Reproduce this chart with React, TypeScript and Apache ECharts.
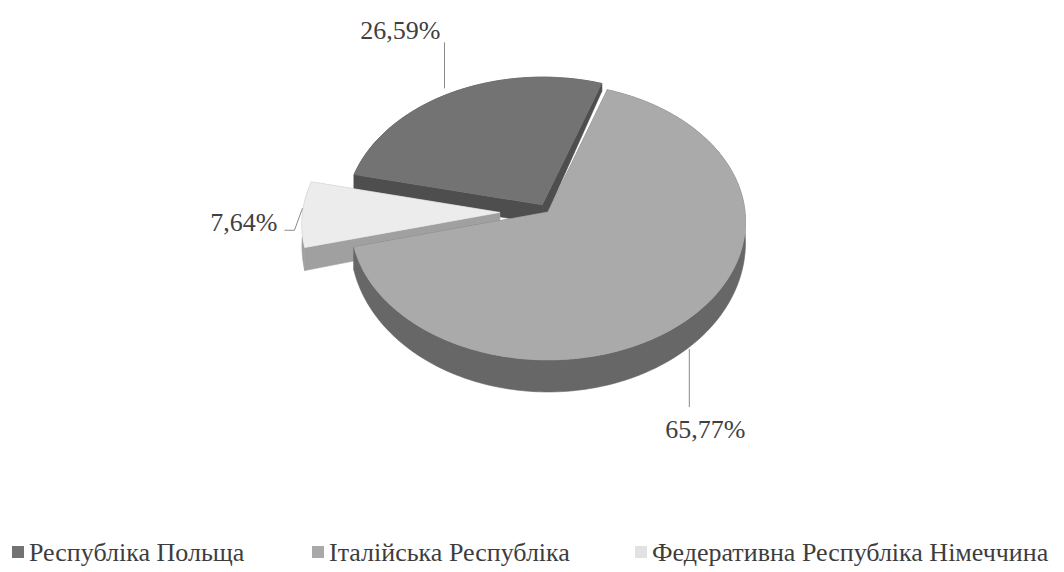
import React, { useEffect, useRef } from "react";
import * as echarts from "echarts";

// ---- data ----
const categories = [
  "Республіка Польща",
  "Італійська Республіка",
  "Федеративна Республіка Німеччина",
];
const shares = [26.59, 65.77, 7.64];

// ---- styles ----
const topColors = ["#737373", "#aaaaaa", "#ececec"];
const sideColors = ["#4e4e4e", "#676767", "#a0a0a0"];
const legendColors = ["#737373", "#a9a9a9", "#e2e2e2"];
const explode = [0.06, 0, 0.245];
const drawRank = [0, 2, 1];
const legendLeft = [7, 307, 630];

const START = 283; // degrees clockwise from the far side
const CX = 548, CY = 212, RX = 197, RY = 137.6, K = 0.07, D0 = 20, D1 = 12;
const FONT = "'Liberation Serif', 'Times New Roman', 'DejaVu Serif', serif";

const total = shares.reduce((a, b) => a + b, 0);
const rad = (d: number) => (d * Math.PI) / 180;
const fmt = (v: number) => v.toFixed(2).replace(".", ",") + "%";

function renderItem(params: any, api: any) {
  const i = params.dataIndex;
  let before = 0;
  for (let j = 0; j < i; j++) before += shares[j];
  const a = START + (360 * before) / total;
  const b = a + (360 * api.value(0)) / total;
  const mid = (a + b) / 2;
  const ou = explode[i] * Math.sin(rad(mid));
  const ov = explode[i] * Math.cos(rad(mid));
  const P = (th: number, r: number, h: number) => {
    const U = ou + r * Math.sin(rad(th));
    const V = ov + r * Math.cos(rad(th));
    const s = 1 / (1 + K * V);
    return [CX + RX * U * s, CY - RY * V * s + h * (D0 - D1 * V)];
  };
  const arc = (h: number) => {
    const pts: number[][] = [];
    const n = Math.max(2, Math.ceil((b - a) / 1.5));
    for (let k = 0; k <= n; k++) pts.push(P(a + ((b - a) * k) / n, 1, h));
    return pts;
  };
  const topArc = arc(0);
  const botArc = arc(1).reverse();
  const base = drawRank[i] * 10;
  const side = sideColors[i];
  const poly = (points: number[][], fill: string, z2: number) => ({
    type: "polygon",
    z2,
    shape: { points },
    style: { fill, stroke: fill, lineWidth: 0.6 },
  });
  const children: any[] = [
    poly(topArc.concat(botArc), side, base + 1),
    poly([P(a, 0, 0), P(a, 1, 0), P(a, 1, 1), P(a, 0, 1)], side, base + 2),
    poly([P(b, 0, 0), P(b, 1, 0), P(b, 1, 1), P(b, 0, 1)], side, base + 2),
    poly([P(a, 0, 0)].concat(topArc), topColors[i], base + 3),
  ];

  // label + leader
  let leader: number[][];
  let tx: number, ty: number, align: string;
  if (i === 0) {
    const [x, y] = P(mid, 1, 0);
    leader = [[x - 8, y - 4], [x - 8, y - 50]];
    tx = x - 12; ty = y - 62; align = "right";
  } else if (i === 1) {
    const [x, y] = P(mid, 1, 1);
    leader = [[x, y + 2], [x, y + 60]];
    tx = x + 16; ty = y + 82; align = "center";
  } else {
    const [x, y] = P(mid, 1, 0);
    leader = [[x, y - 6], [x - 8, y + 16], [x - 18, y + 16]];
    tx = x - 25; ty = y + 8; align = "right";
  }
  children.push({
    type: "polyline",
    z2: 100,
    shape: { points: leader },
    style: { stroke: "#8a8a8a", lineWidth: 1, fill: null },
  });
  children.push({
    type: "text",
    z2: 101,
    x: tx,
    y: ty,
    style: {
      text: fmt(api.value(0)),
      fill: "#404040",
      fontFamily: FONT,
      fontSize: 26,
      align,
      verticalAlign: "middle",
    },
  });
  return { type: "group", children };
}

export default function App() {
  const ref = useRef<HTMLDivElement>(null);
  useEffect(() => {
    if (!ref.current) return;
    const chart = echarts.init(ref.current, undefined, { renderer: "svg" });
    chart.setOption({
      animation: false,
      backgroundColor: "#ffffff",
      textStyle: { fontFamily: FONT },
      legend: categories.map((n, i) => ({
        data: [n],
        left: legendLeft[i],
        top: 534,
        icon: "rect",
        itemWidth: 12,
        itemHeight: 12,
        selectedMode: false,
        textStyle: { fontFamily: FONT, fontSize: 26, color: "#3d3d3d" },
      })),
      series: [
        {
          type: "custom",
          coordinateSystem: "none",
          silent: true,
          renderItem,
          data: shares.map((v, i) => ({ name: categories[i], value: v })),
        },
        {
          type: "pie",
          radius: [0, 1],
          center: [-50, -50],
          silent: true,
          label: { show: false },
          labelLine: { show: false },
          data: shares.map((v, i) => ({
            name: categories[i],
            value: v,
            itemStyle: { color: legendColors[i] },
          })),
        },
      ],
    });
    return () => chart.dispose();
  }, []);
  return (
    <div
      ref={ref}
      style={{ position: "fixed", left: 0, top: 0, width: 1064, height: 572, background: "#fff" }}
    />
  );
}
